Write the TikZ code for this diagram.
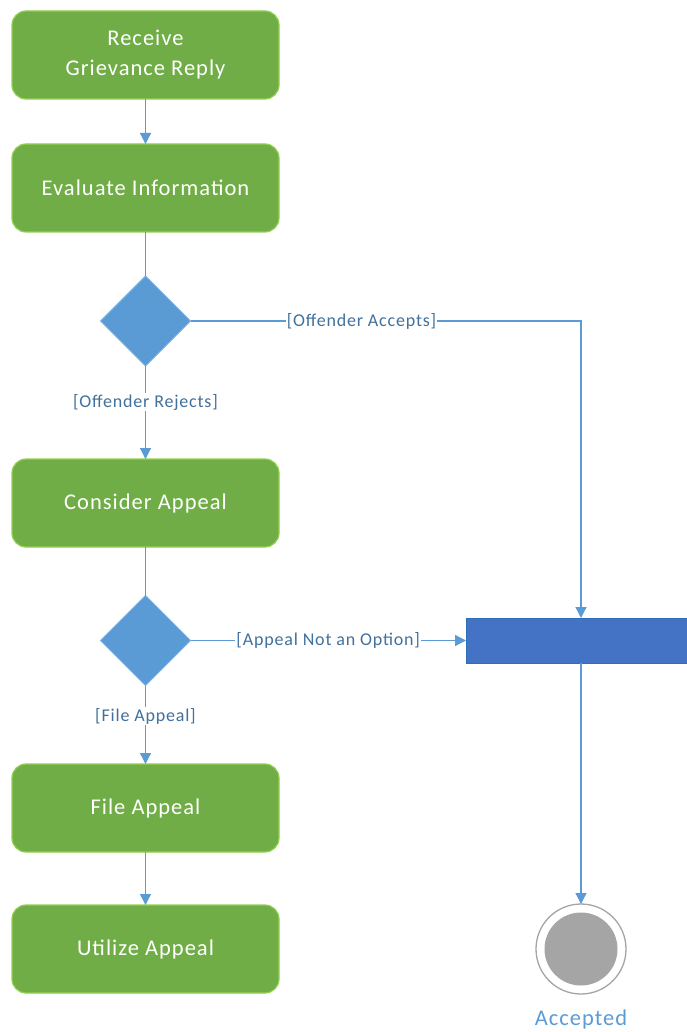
\documentclass[tikz,border=0pt]{standalone}
\usepackage{fontspec}
\setmainfont{Carlito}[LetterSpace=4.5]
\usetikzlibrary{arrows.meta,shapes.geometric}
\definecolor{actgreen}{HTML}{70AD47}
\definecolor{actborder}{HTML}{92D050}
\definecolor{decblue}{HTML}{5B9BD5}
\definecolor{decborder}{HTML}{7DB0E0}
\definecolor{linkblue}{HTML}{5B9BD5}
\definecolor{labelblue}{HTML}{41719C}
\definecolor{barblue}{HTML}{4472C4}
\definecolor{barborder}{HTML}{2E6DB8}
\definecolor{endgray}{HTML}{A5A5A5}
\tikzset{
  activity/.style={draw=actborder, fill=actgreen, line width=1.2pt, rounded corners=14pt,
    minimum width=267pt, minimum height=88pt, text=white,
    font=\fontsize{22.5}{30}\selectfont, align=center, inner sep=0pt, outer sep=0pt},
  decision/.style={diamond, draw=decborder, fill=decblue, line width=1pt,
    minimum width=90pt, minimum height=90pt, inner sep=0pt, outer sep=0pt},
  joinbar/.style={draw=barborder, fill=barblue, line width=1pt,
    minimum width=230pt, minimum height=45pt, inner sep=0pt, outer sep=0pt},
  link/.style={draw=linkblue, line width=1.3pt},
  flow/.style={link, -{Triangle[length=11pt,width=11pt]}},
  guard/.style={fill=white, text=labelblue, font=\fontsize{18}{21}\selectfont, inner sep=1pt},
}
\begin{document}
\begin{tikzpicture}[x=1pt,y=-1pt]
\useasboundingbox (0,0) rectangle (687,1032);
\node[activity] (receive) at (145.5,55) {Receive\\Grievance Reply};
\node[activity] (evaluate) at (145.5,188) {Evaluate Information};
\node[decision] (d1) at (145.5,321) {};
\node[activity] (consider) at (145.5,503) {Consider Appeal};
\node[decision] (d2) at (145.5,640.5) {};
\node[activity] (file) at (145.5,808) {File Appeal};
\node[activity] (utilize) at (145.5,949) {Utilize Appeal};
\node[joinbar] (bar) at (581,640.5) {};
\node[circle, draw=endgray, line width=1.3pt, fill=white, minimum size=90pt, inner sep=0pt, outer sep=0pt] (final) at (581,949) {};
\node[circle, fill=endgray, minimum size=73pt, inner sep=0pt] (finalin) at (final.center) {};
\node[text=decblue, font=\fontsize{22.5}{27}\selectfont] (acc) at (581,1019) {Accepted};

\draw[flow] (receive) -- (evaluate);
\draw[link] (evaluate) -- (d1);
\draw[flow] (d1.east) -| node[guard, pos=0.219] {[Offender Accepts]} (bar.north);
\draw[flow] (d1.south) -- node[guard, pos=0.39] {[Offender Rejects]} (consider.north);
\draw[link] (consider) -- (d2);
\draw[flow] (d2.east) -- node[guard, pos=0.5] {[Appeal Not an Option]} (bar.west);
\draw[flow] (d2.south) -- node[guard, pos=0.39] {[File Appeal]} (file.north);
\draw[flow] (file) -- (utilize);
\draw[flow] (bar.south) -- (final.north);
\end{tikzpicture}
\end{document}
